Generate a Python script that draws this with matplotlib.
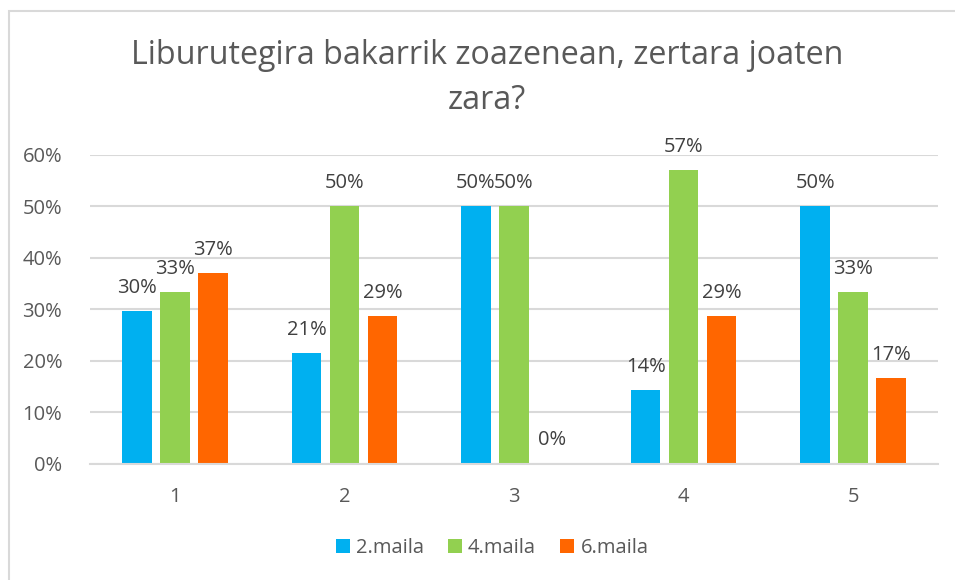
import matplotlib
matplotlib.use("Agg")
import matplotlib.pyplot as plt
import numpy as np
from matplotlib.patches import Patch, Rectangle

categories = ["1", "2", "3", "4", "5"]
series_names = ["2.maila", "4.maila", "6.maila"]
maila2 = [0.296, 0.214, 0.50, 0.143, 0.50]
maila4 = [0.333, 0.50, 0.50, 0.571, 0.333]
maila6 = [0.370, 0.286, 0.0, 0.286, 0.167]
labels2 = ["30%", "21%", "50%", "14%", "50%"]
labels4 = ["33%", "50%", "50%", "57%", "33%"]
labels6 = ["37%", "29%", "0%", "29%", "17%"]
yticks = [0, 0.1, 0.2, 0.3, 0.4, 0.5, 0.6]
ytick_labels = ["0%", "10%", "20%", "30%", "40%", "50%", "60%"]
title = "Liburutegira bakarrik zoazenean, zertara joaten\nzara?"

colors = ["#00B0F0", "#92D050", "#FF6600"]
plt.rcParams['font.family'] = ['Open Sans', 'DejaVu Sans']

W, H = 955, 580
fig = plt.figure(figsize=(W / 100, H / 100), dpi=100)
ax = fig.add_axes([90 / W, 1 - 463.5 / H, (938 - 90) / W, (463.5 - 155) / H])

x = np.arange(len(categories))
offsets = [-0.224, 0.0, 0.224]
width = 0.174
all_vals = [maila2, maila4, maila6]
all_labels = [labels2, labels4, labels6]
for vals, labs, off, col, name in zip(all_vals, all_labels, offsets, colors, series_names):
    bars = ax.bar(x + off, vals, width, color=col, label=name, zorder=3)
    for b, lab in zip(bars, labs):
        ax.annotate(lab, (b.get_x() + b.get_width() / 2, b.get_height()),
                    xytext=(0, 13), textcoords="offset points",
                    ha="center", va="baseline", fontsize=14.5, color="#404040")

ax.set_xlim(-0.5, len(categories) - 0.5)
ax.set_ylim(0, 0.6)
ax.set_yticks(yticks)
ax.set_yticklabels(ytick_labels)
ax.set_xticks(x)
ax.set_xticklabels(categories)
ax.tick_params(axis="both", length=0, labelsize=14.5, colors="#595959")
ax.tick_params(axis="x", pad=17)
ax.tick_params(axis="y", pad=20)
ax.yaxis.grid(True, color="#D9D9D9", linewidth=1.5, zorder=0)
for s in ["top", "right", "left"]:
    ax.spines[s].set_visible(False)
ax.spines["bottom"].set_color("#D9D9D9")
ax.spines["bottom"].set_linewidth(1.5)
ax.spines["bottom"].set_zorder(4)

fig.text(487 / W, 1 - 78 / H, title, ha="center", va="center", fontsize=23.2,
         color="#595959", linespacing=1.5)

handles = [Patch(facecolor=c, edgecolor="none") for c in colors]
fig.legend(handles, series_names, loc="center", bbox_to_anchor=(492 / W, 1 - 548 / H),
           ncol=3, frameon=False, fontsize=14.5, handlelength=0.7, handleheight=0.7,
           handletextpad=0.3, columnspacing=1.2, labelcolor="#595959")

fig.patches.append(Rectangle((8.5 / W, -0.1), 2, 1 - 11 / H + 0.1, transform=fig.transFigure,
                             fill=False, edgecolor="#D9D9D9", linewidth=1.5))

fig.savefig("out.png", dpi=100)
